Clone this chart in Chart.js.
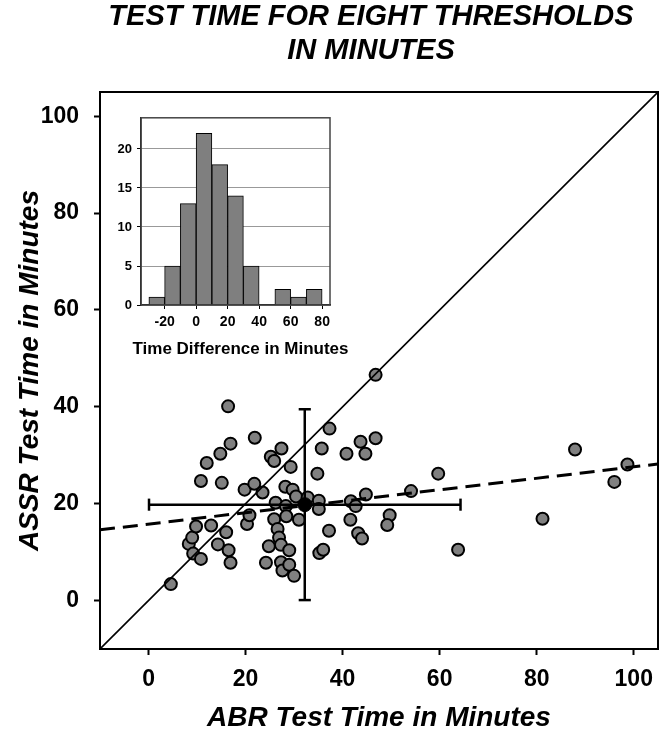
<!DOCTYPE html>
<html>
<head>
<meta charset="utf-8">
<script src="https://cdn.jsdelivr.net/npm/chart.js@4.4.1/dist/chart.umd.min.js"></script>
<style>
  body { margin: 0; background: #fff; }
  #wrap { position: relative; width: 666px; height: 735px; }
  #mainChart { position: absolute; left: 0; top: 0; }
  #histChart { position: absolute; left: 100px; top: 105px; }
</style>
</head>
<body>
<div id="wrap">
  <canvas id="mainChart" width="666" height="735"></canvas>
  <canvas id="histChart" width="265" height="260"></canvas>
</div>
<script>
// scatter: ABR vs ASSR test time (minutes), one point per subject
const abrTimes = [4.6, 8.3, 9.0, 9.2, 9.8, 10.8, 10.8, 12.0, 12.9, 14.3, 14.8, 15.1, 16.0, 16.5, 16.9,
  16.4, 16.9, 19.8, 20.3, 20.8, 21.8, 21.9, 23.5, 24.2, 24.8, 25.2, 25.9, 25.9, 26.6, 26.9,
  26.2, 27.4, 27.3, 27.3, 27.6, 28.2, 28.3, 28.4, 29.0, 29.0, 29.3, 29.7, 30.0, 30.4, 31.0,
  32.8, 35.1, 35.1, 34.8, 35.7, 35.2, 36.0, 37.3, 37.2, 40.8, 41.7, 42.7, 41.6, 43.2, 44.0,
  43.7, 44.7, 46.8, 44.8, 46.8, 49.7, 49.2, 54.1, 59.7, 63.8, 81.2, 87.9, 96.0, 98.7];
const assrTimes = [3.4, 11.7, 13.0, 9.7, 15.3, 8.6, 24.7, 28.4, 15.5, 11.6, 30.3, 24.3, 14.1, 10.4, 7.8,
  40.1, 32.4, 22.9, 15.8, 17.6, 24.1, 33.6, 22.3, 7.8, 11.2, 29.7, 28.8, 16.8, 14.8, 13.0,
  20.2, 31.4, 11.5, 7.9, 6.2, 23.5, 19.5, 17.4, 10.4, 7.4, 27.6, 22.9, 5.1, 21.5, 16.7,
  21.3, 20.6, 18.9, 26.2, 31.4, 9.8, 10.5, 35.5, 14.4, 30.3, 20.5, 19.5, 16.7, 13.9, 12.8,
  32.8, 30.3, 33.5, 21.9, 46.6, 17.6, 15.6, 22.6, 26.2, 10.5, 16.9, 31.2, 24.5, 28.1];
const axisTicks = [0, 20, 40, 60, 80, 100];

// y = x line and the dashed trend line (end points)
const identityX = [-10, 105];
const identityY = [-10, 105];
const trendX = [-10, 105];
const trendY = [14.6, 28.2];

// mean +/- 1 SD
const meanAbr = 32.2, meanAssr = 19.8;
const sdAbr = 32.1, sdAssr = 19.7;

// inset histogram of the differences
const histBins = [-25, -15, -5, 5, 15, 25, 35, 45, 55, 65, 75];
const histCounts = [1, 5, 13, 22, 18, 14, 5, 0, 2, 1, 2];
const histXTicks = [-20, 0, 20, 40, 60, 80];
const histYTicks = [0, 5, 10, 15, 20];
const histLabel = 'Time Difference in Minutes';

const fontFamily = '"Liberation Sans", Arial, sans-serif';
Chart.defaults.font.family = fontFamily;
Chart.defaults.color = '#000';

// box round the plot area
const framePlugin = {
    id: 'frame',
    afterDraw(chart, args, opts) {
        const { ctx, chartArea: a } = chart;
        ctx.save();
        ctx.strokeStyle = opts.color;
        ctx.lineWidth = opts.width;
        ctx.strokeRect(a.left, a.top, a.right - a.left, a.bottom - a.top);
        ctx.restore();
    }
};

// inset x label is wider than the inset itself, so the axis title would squeeze it
const insetLabelPlugin = {
    id: 'insetLabel',
    afterDraw(chart, args, opts) {
        const { ctx, chartArea: a } = chart;
        ctx.save();
        ctx.font = 'bold 17px ' + fontFamily;
        ctx.fillStyle = '#000';
        ctx.textAlign = 'center';
        ctx.textBaseline = 'middle';
        ctx.fillText(opts.text, (a.left + a.right) / 2 + 5, a.bottom + 44);
        ctx.restore();
    }
};

function lineSet(xs, ys, width, dash) {
    return {
        type: 'line',
        data: xs.map((x, i) => ({ x: x, y: ys[i] })),
        borderColor: '#000',
        borderWidth: width,
        borderDash: dash || [],
        pointRadius: 0,
        fill: false,
        order: 1
    };
}

const cap = 1.25; // half length of the error bar caps, in minutes
const errorBars = [
    lineSet([meanAbr - sdAbr, meanAbr + sdAbr], [meanAssr, meanAssr], 2.5),
    lineSet([meanAbr, meanAbr], [meanAssr - sdAssr, meanAssr + sdAssr], 2.5),
    lineSet([meanAbr - sdAbr, meanAbr - sdAbr], [meanAssr - cap, meanAssr + cap], 2.5),
    lineSet([meanAbr + sdAbr, meanAbr + sdAbr], [meanAssr - cap, meanAssr + cap], 2.5),
    lineSet([meanAbr - cap, meanAbr + cap], [meanAssr - sdAssr, meanAssr - sdAssr], 2.5),
    lineSet([meanAbr - cap, meanAbr + cap], [meanAssr + sdAssr, meanAssr + sdAssr], 2.5)
];

const titleFont = { size: 29, weight: 'bold', style: 'italic', lineHeight: 1 };

new Chart(document.getElementById('mainChart'), {
    type: 'scatter',
    data: {
        datasets: [
            {
                data: abrTimes.map((x, i) => ({ x: x, y: assrTimes[i] })),
                backgroundColor: '#808080',
                borderColor: '#000',
                borderWidth: 2,
                pointRadius: 6,
                order: 5
            },
            lineSet(identityX, identityY, 1.6),
            lineSet(trendX, trendY, 3, [15, 8]),
            ...errorBars,
            {
                data: [{ x: meanAbr, y: meanAssr }],
                backgroundColor: '#000',
                borderColor: '#000',
                pointRadius: 7,
                order: 0
            }
        ]
    },
    options: {
        responsive: false,
        animation: false,
        layout: { padding: { left: 0, right: 7, top: 0, bottom: 0 } },
        plugins: {
            legend: { display: false },
            tooltip: { enabled: false },
            title: {
                display: true,
                fullSize: false,
                // trailing spaces nudge the centred title a little left, as in the original
                text: 'TEST TIME FOR EIGHT THRESHOLDS  ',
                font: titleFont,
                padding: { top: 2, bottom: 4 },
                color: '#000'
            },
            subtitle: {
                display: true,
                fullSize: false,
                text: 'IN MINUTES  ',
                font: titleFont,
                padding: { top: 1, bottom: 27 },
                color: '#000'
            },
            frame: { color: '#000', width: 2 }
        },
        scales: {
            x: {
                type: 'linear',
                min: -10,
                max: 105,
                afterBuildTicks: s => { s.ticks = axisTicks.map(v => ({ value: v })); },
                afterFit: s => { s.height = 86; },
                ticks: { font: { size: 23, weight: 'bold' }, padding: 11, maxRotation: 0, color: '#000' },
                grid: { drawOnChartArea: false, tickLength: 6, tickColor: '#000', tickWidth: 2 },
                border: { color: '#000', width: 2 },
                title: {
                    display: true,
                    text: 'ABR Test Time in Minutes',
                    font: { size: 28, weight: 'bold', style: 'italic' },
                    padding: { top: 0, bottom: 0 },
                    color: '#000'
                }
            },
            y: {
                type: 'linear',
                min: -10,
                max: 105,
                afterBuildTicks: s => { s.ticks = axisTicks.map(v => ({ value: v })); },
                afterFit: s => { s.width = 100; },
                ticks: { font: { size: 23, weight: 'bold' }, padding: 15, color: '#000' },
                grid: { drawOnChartArea: false, tickLength: 6, tickColor: '#000', tickWidth: 2 },
                border: { color: '#000', width: 2 },
                title: {
                    display: true,
                    text: 'ASSR Test Time in Minutes',
                    font: { size: 28, weight: 'bold', style: 'italic' },
                    padding: { top: 13, bottom: 0 },
                    color: '#000'
                }
            }
        }
    },
    plugins: [framePlugin]
});

new Chart(document.getElementById('histChart'), {
    type: 'bar',
    data: {
        datasets: [{
            data: histBins.map((b, i) => ({ x: b, y: histCounts[i] })),
            backgroundColor: '#7f7f7f',
            borderColor: '#000',
            borderWidth: 1,
            barPercentage: 1,
            categoryPercentage: 1
        }]
    },
    options: {
        responsive: false,
        animation: false,
        layout: { padding: { left: 0, right: 35, top: 9, bottom: 0 } },
        plugins: {
            legend: { display: false },
            tooltip: { enabled: false },
            frame: { color: '#444', width: 1.5 },
            insetLabel: { text: histLabel }
        },
        scales: {
            x: {
                type: 'linear',
                offset: false,
                min: -35,
                max: 85,
                afterBuildTicks: s => { s.ticks = histXTicks.map(v => ({ value: v })); },
                afterFit: s => { s.height = 60; },
                ticks: { font: { size: 14, weight: 'bold' }, padding: 5, maxRotation: 0, color: '#000' },
                grid: { offset: false, drawOnChartArea: false, tickLength: 4, tickColor: '#000' },
                border: { color: '#000', width: 1.5 }
            },
            y: {
                min: 0,
                max: 24,
                afterBuildTicks: s => { s.ticks = histYTicks.map(v => ({ value: v })); },
                afterFit: s => { s.width = 41; },
                ticks: { font: { size: 13, weight: 'bold' }, padding: 5, color: '#000' },
                grid: {
                    color: c => c.tick && c.tick.value === 0 ? 'rgba(0,0,0,0)' : '#999',
                    tickLength: 4,
                    tickColor: '#000'
                },
                border: { color: '#000', width: 1.5 }
            }
        }
    },
    plugins: [framePlugin, insetLabelPlugin]
});
</script>
</body>
</html>
